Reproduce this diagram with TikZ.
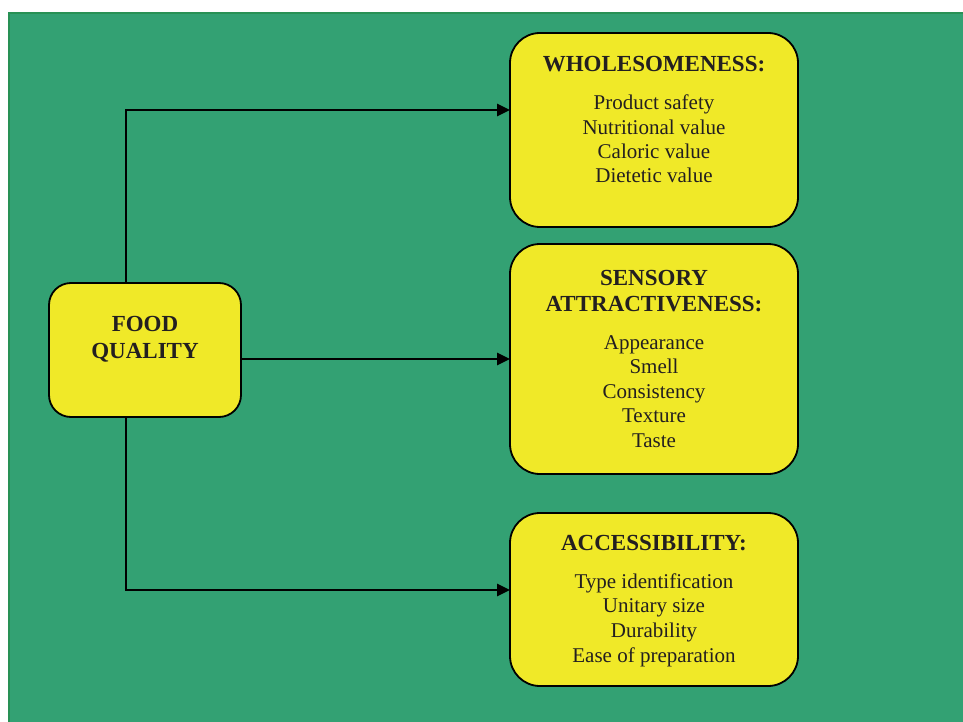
\documentclass[tikz,border=0pt]{standalone}
\usepackage{fontspec}
\setmainfont{Liberation Serif}
\usetikzlibrary{arrows.meta}
\definecolor{bggreen}{RGB}{51,161,115}
\definecolor{bgedge}{RGB}{40,145,85}
\definecolor{boxyellow}{RGB}{240,233,40}
\definecolor{ink}{RGB}{35,31,32}
\tikzset{
  box/.style={draw=black, line width=1.8pt, fill=boxyellow, rounded corners=#1, inner sep=0pt, outer sep=0pt},
  head/.style={anchor=base, inner sep=0pt, text=ink, font=\fontsize{23}{26}\selectfont\bfseries},
  item/.style={anchor=base, inner sep=0pt, text=ink, font=\fontsize{21}{24}\selectfont},
  conn/.style={line width=2.7pt, -{Triangle[length=13pt,width=12pt]}}
}
\begin{document}
\begin{tikzpicture}[x=1pt,y=-1pt]
\useasboundingbox (0,0) rectangle (963,722);
\fill[white] (0,0) rectangle (963,722);
\fill[bggreen] (8,12) rectangle (963,722);
\draw[bgedge, line width=2pt] (9,722) -- (9,13) -- (963,13);

\node[box=22pt, minimum width=192pt, minimum height=134pt] (fq) at (145,350) {};
\node[box=30pt, minimum width=288pt, minimum height=194pt] (wh) at (654,130) {};
\node[box=30pt, minimum width=288pt, minimum height=230pt] (se) at (654,359) {};
\node[box=30pt, minimum width=288pt, minimum height=173pt] (ac) at (654,599.5) {};

% Food quality
\node[head] (fq1) at (145,331.5) {FOOD};
\node[head] (fq2) at (145,358.5) {QUALITY};

% Wholesomeness
\node[head] (wh0) at (654,71.5) {WHOLESOMENESS:};
\node[item] (wh1) at (654,110) {Product safety};
\node[item] (wh2) at (654,134.3) {Nutritional value};
\node[item] (wh3) at (654,158.6) {Caloric value};
\node[item] (wh4) at (654,182.9) {Dietetic value};

% Sensory
\node[head] (se0) at (654,285) {SENSORY};
\node[head] (se1) at (654,311.7) {ATTRACTIVENESS:};
\node[item] (se2) at (654,349) {Appearance};
\node[item] (se3) at (654,373.5) {Smell};
\node[item] (se4) at (654,398) {Consistency};
\node[item] (se5) at (654,422.5) {Texture};
\node[item] (se6) at (654,447) {Taste};

% Accessibility
\node[head] (ac0) at (654,550.7) {ACCESSIBILITY:};
\node[item] (ac1) at (654,588) {Type identification};
\node[item] (ac2) at (654,612.8) {Unitary size};
\node[item] (ac3) at (654,637.6) {Durability};
\node[item] (ac4) at (654,662.4) {Ease of preparation};

% connectors
\coordinate (t1) at (126,110);
\coordinate (b1) at (126,590);
\draw[conn] (fq.north -| t1) |- (wh.west |- t1);
\draw[conn] (fq.east |- se.west) -- (se.west);
\draw[conn] (fq.south -| b1) |- (ac.west |- b1);
\end{tikzpicture}
\end{document}
